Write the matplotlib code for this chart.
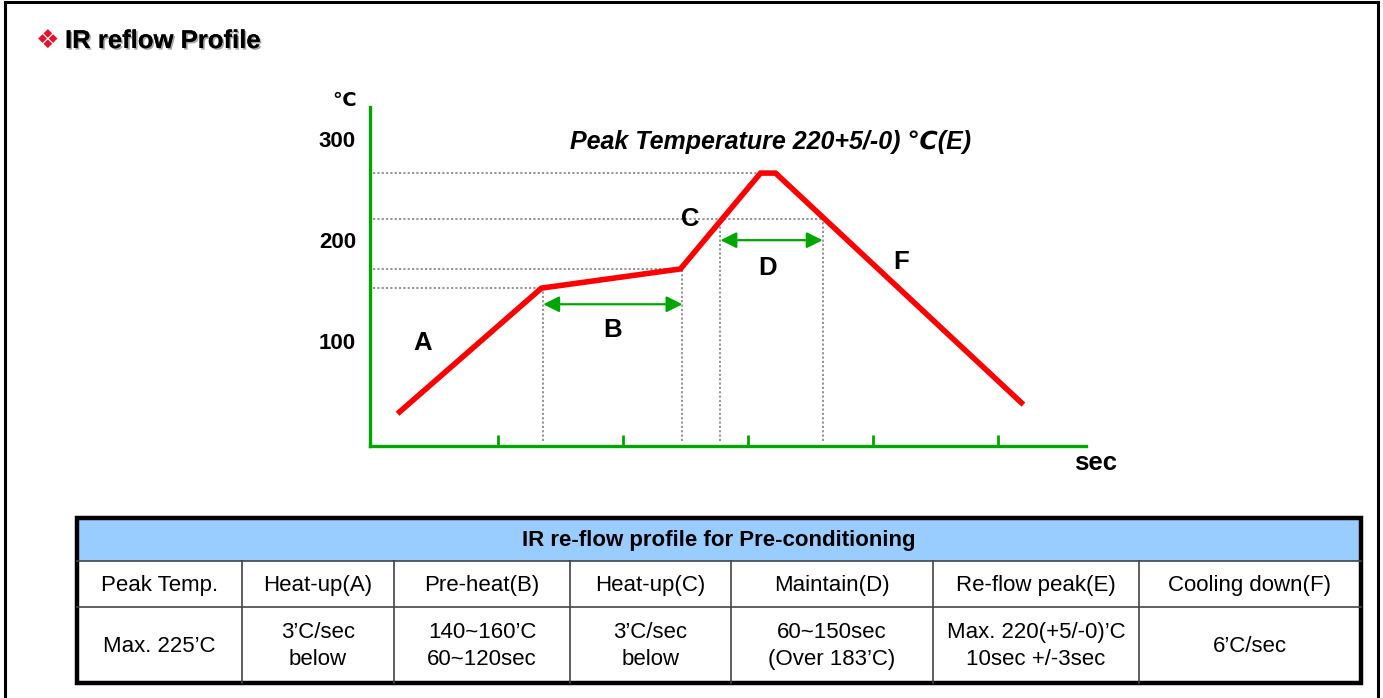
import matplotlib
matplotlib.use("Agg")
import matplotlib.pyplot as plt
import matplotlib.patheffects as pe
from matplotlib.patches import Rectangle
from matplotlib.lines import Line2D

plt.rcParams["font.family"] = ["Liberation Sans", "DejaVu Sans"]

# reflow profile (time in sec, temperature in degC)
time_pts = [10, 67.5, 123, 155, 161, 260]
temp_pts = [27, 151.5, 170.5, 265.5, 265.5, 36]

# guide levels and zone boundaries
guide_temps = [151.5, 170.5, 220, 265.5]
guide_ends = [67.5, 123, 179.8, 155]
zone_times = [68.2, 123.8, 139, 179.8]
zone_tops = [151.5, 170.5, 220, 220]

x_ticks = [50, 100, 150, 200, 250]
y_labels = [100, 200, 300]

header = "IR re-flow profile for Pre-conditioning"
col_names = ["Peak Temp.", "Heat-up(A)", "Pre-heat(B)", "Heat-up(C)",
             "Maintain(D)", "Re-flow peak(E)", "Cooling down(F)"]
col_values = ["Max. 225\u2019C", "3\u2019C/sec\nbelow", "140~160\u2019C\n60~120sec",
              "3\u2019C/sec\nbelow", "60~150sec\n(Over 183\u2019C)",
              "Max. 220(+5/-0)\u2019C\n10sec +/-3sec", "6\u2019C/sec"]
col_edges = [77, 242, 394, 570, 731, 933, 1139, 1361]

W, H = 1383, 698
GREEN = "#00A600"
fig = plt.figure(figsize=(W / 100, H / 100), dpi=100)

# page frame
for xs, ys in [([5, 5], [0, H - 2]), ([5, 1378], [H - 2, H - 2]), ([1378, 1378], [0, H - 2])]:
    fig.add_artist(Line2D([x / W for x in xs], [y / H for y in ys], color="black", lw=2.2))

fig.text(36 / W, 1 - 41 / H, "\u2756", color="#E8102A", fontsize=19, ha="left", va="center",
         family="DejaVu Sans")
fig.text(65 / W, 1 - 41 / H, "IR reflow Profile", fontsize=18.5, weight="bold", ha="left",
         va="center", path_effects=[pe.withSimplePatchShadow(offset=(1.2, -1.2), alpha=0.35),
                                    pe.Normal()])

# profile chart
ax = fig.add_axes([370 / W, 1 - 446 / H, 716 / W, 339 / H])
ax.set_xlim(-1, 285)
ax.set_ylim(-5, 331)
for s in ["top", "right"]:
    ax.spines[s].set_visible(False)
for s in ["left", "bottom"]:
    ax.spines[s].set_color(GREEN)
    ax.spines[s].set_linewidth(2.4)
ax.set_xticks(x_ticks)
ax.set_xticklabels([])
ax.tick_params(axis="x", direction="in", length=8, width=2, color=GREEN)
ax.set_yticks([])

for t in y_labels:
    ax.text(-6.6, t - 3, str(t), ha="right", va="center", fontsize=16, weight="bold",
            clip_on=False)
ax.text(-11.5, 337, "\u2103", ha="center", va="center", fontsize=14, weight="bold",
        clip_on=False, family=["DejaVu Sans"])
ax.text(289, -22, "sec", ha="center", va="center", fontsize=18.5, weight="bold", clip_on=False)

dot = dict(color="#8C8C8C", lw=1.3, linestyle=(0, (1.2, 1.2)))
for t, xe in zip(guide_temps, guide_ends):
    ax.plot([0, xe], [t, t], **dot)
for xv, top in zip(zone_times, zone_tops):
    ax.plot([xv, xv], [0, top], **dot)

ax.plot(time_pts, temp_pts, color="red", lw=4, solid_joinstyle="miter", solid_capstyle="butt",
        zorder=5)

arrow = dict(arrowstyle="<|-|>", color=GREEN, lw=1.6, mutation_scale=24, shrinkA=0, shrinkB=0)
ax.annotate("", xy=(zone_times[0], 135.5), xytext=(zone_times[1], 135.5), arrowprops=arrow)
ax.annotate("", xy=(zone_times[2], 199), xytext=(zone_times[3], 199), arrowprops=arrow)

for lbl, x, y in [("A", 20, 97), ("B", 96, 110), ("C", 127, 220), ("D", 158, 171),
                  ("F", 211, 177)]:
    ax.text(x, y, lbl, ha="center", va="center", fontsize=18.5, weight="bold")

ax.text(159, 296, "Peak Temperature 220+5/-0) \u2103(E)", ha="center", va="center",
        fontsize=18, weight="bold", style="italic")

# pre-conditioning table
tax = fig.add_axes([0, 0, 1, 1])
tax.set_xlim(0, W)
tax.set_ylim(H, 0)
tax.axis("off")
top, r1, r2, bot = 518, 561, 607, 683
left, right = col_edges[0], col_edges[-1]
tax.add_patch(Rectangle((left, top), right - left, r1 - top, facecolor="#99CCFF",
                        edgecolor="none"))
tax.plot([left, right], [r1, r1], color="#444444", lw=1.2)
tax.plot([left, right], [r2, r2], color="#444444", lw=1.2)
for xe in col_edges[1:-1]:
    tax.plot([xe, xe], [r1, bot], color="#444444", lw=1.2)
tax.add_patch(Rectangle((left, top), right - left, bot - top, facecolor="none",
                        edgecolor="black", lw=3.2))
tax.text((left + right) / 2, (top + r1) / 2 + 1, header, ha="center", va="center",
         fontsize=16, weight="bold")
for i in range(len(col_names)):
    xc = (col_edges[i] + col_edges[i + 1]) / 2
    tax.text(xc, (r1 + r2) / 2 + 1, col_names[i], ha="center", va="center", fontsize=16)
    tax.text(xc, (r2 + bot) / 2 + 1, col_values[i], ha="center", va="center", fontsize=16,
             linespacing=1.4)

fig.savefig("out.png", dpi=100, facecolor="white")
